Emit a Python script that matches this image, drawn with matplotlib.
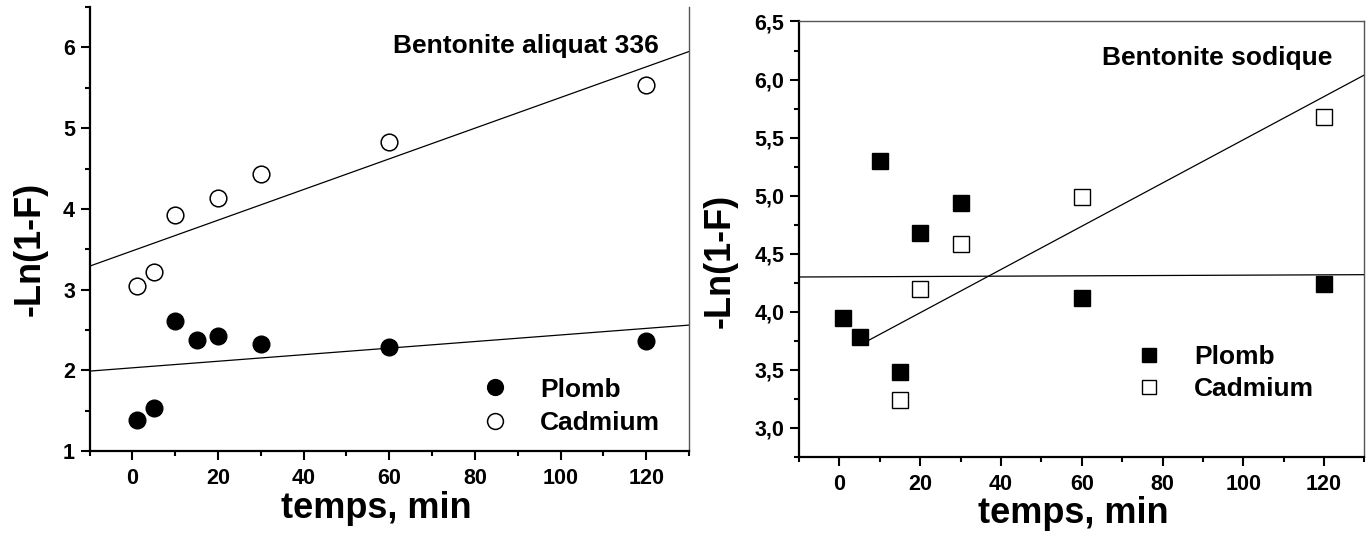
import matplotlib
matplotlib.use("Agg")
import matplotlib.pyplot as plt
from matplotlib.ticker import MultipleLocator, FuncFormatter
import numpy as np

plt.rcParams['font.family'] = ['Liberation Sans', 'DejaVu Sans']
plt.rcParams['font.weight'] = 'bold'
plt.rcParams['axes.labelweight'] = 'bold'

# bentonite aliquat 336
t_pb_a = [1, 5, 10, 15, 20, 30, 60, 120]
y_pb_a = [1.38, 1.53, 2.61, 2.37, 2.43, 2.32, 2.29, 2.36]
t_cd_a = [1, 5, 10, 20, 30, 60, 120]
y_cd_a = [3.05, 3.22, 3.92, 4.13, 4.43, 4.83, 5.53]
fit_pb_a_x = [-10, 130]
fit_pb_a_y = [1.99, 2.56]
fit_cd_a_x = [-10, 130]
fit_cd_a_y = [3.29, 5.95]

# bentonite sodique
t_pb_s = [1, 5, 10, 15, 20, 30, 60, 120]
y_pb_s = [3.95, 3.78, 5.30, 3.48, 4.68, 4.94, 4.12, 4.24]
t_cd_s = [15, 20, 30, 60, 120]
y_cd_s = [3.24, 4.20, 4.58, 4.99, 5.68]
fit_pb_s_x = [-10, 130]
fit_pb_s_y = [4.30, 4.32]
fit_cd_s_x = [7, 130]
fit_cd_s_y = [3.75, 6.04]

fig = plt.figure(figsize=(13.69, 5.40), dpi=100)
ax1 = fig.add_axes([0.0654, 0.1648, 0.4379, 0.822])
ax2 = fig.add_axes([0.5836, 0.1537, 0.4131, 0.8065])


def style_axes(ax):
    for s in ['left', 'bottom']:
        ax.spines[s].set_linewidth(1.6)
        ax.spines[s].set_color('black')
    for s in ['right', 'top']:
        ax.spines[s].set_linewidth(1.0)
        ax.spines[s].set_color('#555555')
    ax.tick_params(which='major', direction='out', length=6.5, width=1.5,
                   labelsize=15.5, pad=4)
    ax.tick_params(which='minor', direction='out', length=3.3, width=1.5)
    ax.tick_params(axis='x', which='major', pad=6)
    ax.tick_params(top=False, right=False, which='both')
    ax.xaxis.set_major_locator(MultipleLocator(20))
    ax.xaxis.set_minor_locator(MultipleLocator(10))
    ax.set_xlim(-10, 130)


# left panel
ax = ax1
style_axes(ax)
ax.spines['top'].set_visible(False)
ax.set_ylim(1, 6.5)
ax.yaxis.set_major_locator(MultipleLocator(1))
ax.yaxis.set_minor_locator(MultipleLocator(0.5))
ax.plot(fit_cd_a_x, fit_cd_a_y, color='black', lw=0.9)
ax.plot(fit_pb_a_x, fit_pb_a_y, color='black', lw=0.9)
ax.plot(t_pb_a, y_pb_a, 'o', ms=12, color='black', mec='black', label='Plomb')
ax.plot(t_cd_a, y_cd_a, 'o', ms=12, mfc='white', mec='black', mew=1.1, label='Cadmium')
ax.legend(loc='center left', bbox_to_anchor=(0.655, 0.101), frameon=False,
          fontsize=19, handlelength=1.0, handletextpad=1.2, labelspacing=0.35,
          borderpad=0, borderaxespad=0, markerscale=0.95)
ax.text(0.950, 0.897, 'Bentonite aliquat 336', transform=ax.transAxes,
        ha='right', va='baseline', fontsize=19)
ax.set_xlabel('temps, min', fontsize=26, fontweight='bold')
ax.xaxis.set_label_coords(0.479, -0.09)
ax.set_ylabel('-Ln(1-F)', fontsize=26, fontweight='bold', va='center')
ax.yaxis.set_label_coords(-0.099, 0.456)

# right panel
ax = ax2
style_axes(ax)
ax.set_ylim(2.75, 6.5)
ax.yaxis.set_major_locator(MultipleLocator(0.5))
ax.yaxis.set_minor_locator(MultipleLocator(0.25))
ax.yaxis.set_major_formatter(FuncFormatter(lambda v, p: f"{v:.1f}".replace('.', ',')))
ax.plot(fit_cd_s_x, fit_cd_s_y, color='black', lw=0.9)
ax.plot(fit_pb_s_x, fit_pb_s_y, color='black', lw=0.9)
ax.plot(t_pb_s, y_pb_s, 's', ms=11, color='black', mec='black', label='Plomb')
ax.plot(t_cd_s, y_cd_s, 's', ms=11, mfc='white', mec='black', mew=1.0, label='Cadmium')
ax.legend(loc='center left', bbox_to_anchor=(0.596, 0.192), frameon=False,
          fontsize=19, handlelength=1.0, handletextpad=1.2, labelspacing=0.3,
          borderpad=0, borderaxespad=0, markerscale=0.9)
ax.text(0.9425, 0.900, 'Bentonite sodique', transform=ax.transAxes,
        ha='right', va='baseline', fontsize=19)
ax.set_xlabel('temps, min', fontsize=26, fontweight='bold')
ax.xaxis.set_label_coords(0.486, -0.09)
ax.set_ylabel('-Ln(1-F)', fontsize=26, fontweight='bold', va='center')
ax.yaxis.set_label_coords(-0.14, 0.451)

fig.savefig('out.png', dpi=100)
